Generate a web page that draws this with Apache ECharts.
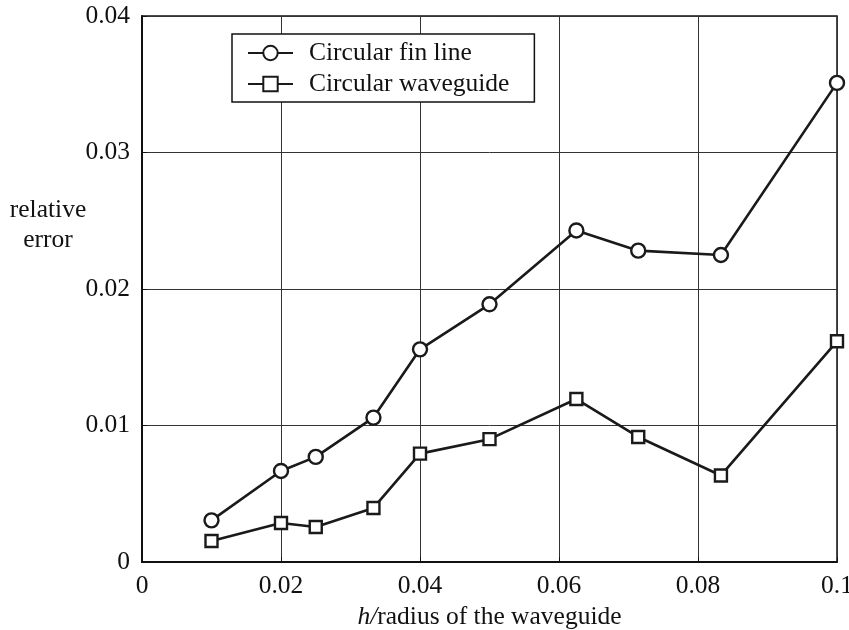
<!DOCTYPE html>
<html>
<head>
<meta charset="utf-8">
<script src="https://cdn.jsdelivr.net/npm/echarts@6/dist/echarts.min.js"></script>
<style>html,body{margin:0;padding:0;background:#fff}#c{width:849px;height:630px}</style>
</head>
<body>
<div id="c"></div>
<script>
const xValues = [0.01, 0.02, 0.025, 0.0333, 0.04, 0.05, 0.0625, 0.0714, 0.0833, 0.1];
const finLine = [0.00305, 0.00667, 0.0077, 0.01058, 0.01558, 0.01888, 0.02429, 0.02281, 0.02249, 0.0351];
const waveguide = [0.00154, 0.00286, 0.00256, 0.00396, 0.00794, 0.009, 0.01194, 0.00916, 0.00634, 0.01617];
const seriesNames = ['Circular fin line', 'Circular waveguide'];
const xTicks = ['0', '0.02', '0.04', '0.06', '0.08', '0.1'];
const yTicks = ['0', '0.01', '0.02', '0.03', '0.04'];

const FONT = '"Liberation Serif", "Times New Roman", serif';
const FS = 25.5;
const chart = echarts.init(document.getElementById('c'));
const pair = arr => xValues.map((x, i) => [x, arr[i]]);
const lineStyle = { color: '#1a1a1a', width: 2.6 };
const itemStyle = { color: '#fff', borderColor: '#1a1a1a', borderWidth: 2.4 };

chart.setOption({
  animation: false,
  backgroundColor: '#fff',
  grid: { left: 142, right: 12, top: 16, bottom: 68, show: true, borderColor: '#111', borderWidth: 1.5,
    outerBoundsMode: 'none', containLabel: false },
  xAxis: {
    type: 'value', min: 0, max: 0.1, interval: 0.02,
    axisLine: { show: true, lineStyle: { color: '#111', width: 2 } },
    axisTick: { show: true, inside: true, length: 5, lineStyle: { color: '#111' } },
    splitLine: { show: true, lineStyle: { color: '#333', width: 1 } },
    axisLabel: { margin: 11, color: '#111', fontFamily: FONT, fontSize: FS,
      formatter: (v) => xTicks[Math.round(v / 0.02)] },
    name: '{i|h/}{n|radius of the waveguide}',
    nameLocation: 'middle', nameGap: 42, nameMoveOverlap: false,
    nameTextStyle: { verticalAlign: 'top', rich: {
      i: { fontFamily: FONT, fontSize: FS, fontStyle: 'italic', color: '#111' },
      n: { fontFamily: FONT, fontSize: FS, color: '#111' } } }
  },
  yAxis: {
    type: 'value', min: 0, max: 0.04, interval: 0.01,
    axisLine: { show: true, lineStyle: { color: '#111', width: 2 } },
    axisTick: { show: true, inside: true, length: 5, lineStyle: { color: '#111' } },
    splitLine: { show: true, lineStyle: { color: '#333', width: 1 } },
    axisLabel: { margin: 12, color: '#111', fontFamily: FONT, fontSize: FS,
      formatter: (v) => yTicks[Math.round(v / 0.01)] }
  },
  graphic: [{
    type: 'text', x: 48, y: 195,
    style: { text: 'relative\nerror', fill: '#111', font: FS + 'px ' + FONT, align: 'center', lineHeight: 30 }
  }],
  legend: {
    orient: 'vertical', left: 232, top: 34,
    backgroundColor: '#fff', borderColor: '#111', borderWidth: 1.5,
    padding: [6, 25, 5, 15], itemGap: 5, itemWidth: 45, itemHeight: 18,
    textStyle: { fontFamily: FONT, fontSize: FS, color: '#111', padding: [0, 0, 0, 11] },
    data: seriesNames
  },
  series: [
    { name: seriesNames[0], type: 'line', data: pair(finLine), symbol: 'circle', symbolSize: 14,
      lineStyle, itemStyle, z: 3 },
    { name: seriesNames[1], type: 'line', data: pair(waveguide), symbol: 'rect', symbolSize: 12,
      lineStyle, itemStyle, z: 3 }
  ]
});
</script>
</body>
</html>
